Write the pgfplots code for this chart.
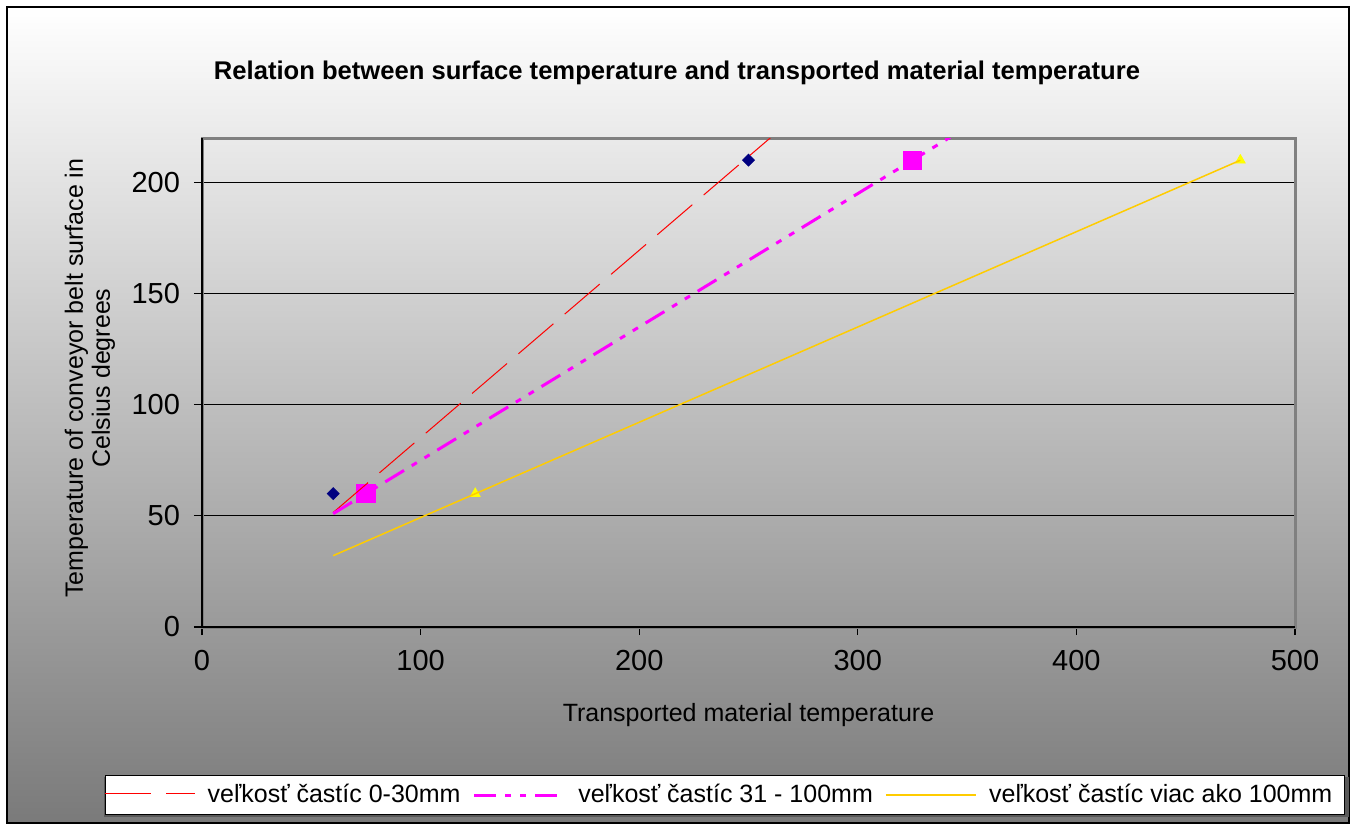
\documentclass[border=0pt]{standalone}
\usepackage{fontspec}
\setmainfont{Liberation Sans}
\usepackage{pgfplots}
\pgfplotsset{compat=1.18}

\definecolor{trendred}{RGB}{255,0,0}
\definecolor{magentax}{RGB}{255,0,255}
\definecolor{goldline}{RGB}{255,204,0}
\definecolor{yellowmark}{RGB}{255,255,0}
\definecolor{navymark}{RGB}{0,0,128}
\definecolor{bottomgray}{RGB}{122,122,122}
\definecolor{framegray}{RGB}{128,128,128}

\begin{document}
\begin{tikzpicture}
% chart area, 1px = 0.5pt
\path[use as bounding box] (0pt,0pt) rectangle (677pt,413.5pt);
\shade[top color=white, bottom color=bottomgray] (3.5pt,2pt) rectangle (674.5pt,410pt);
\draw[black, line width=0.75pt] (3.5pt,2pt) rectangle (674.5pt,410pt);
\node[font=\bfseries\fontsize{12.8}{14}\selectfont] at (338.5pt,377pt)
  {Relation between surface temperature and transported material temperature};
% legend shadow
\fill[black!65] (52pt,5pt) rectangle (674.5pt,25pt);

\begin{axis}[
  at={(101pt,100pt)}, anchor=south west, scale only axis,
  width=546.5pt, height=244.5pt,
  xmin=0, xmax=500, ymin=0, ymax=220,
  xtick={0,100,...,500}, ytick={0,50,...,200},
  axis line style={framegray, line width=1.5pt},
  tick style={black, line width=0.6pt},
  major tick length=4pt, tick align=outside, tick pos=left,
  ymajorgrids, grid style={black, line width=0.5pt},
  clip mode=individual,
  /pgf/number format/assume math mode=true,
  tick label style={font=\fontsize{14.5}{17}\selectfont},
  yticklabel style={xshift=-3.5pt},
  xticklabel style={yshift=-4pt},
  label style={font=\fontsize{12.5}{13.5}\selectfont},
  xlabel={Transported material temperature},
  xlabel style={at={(axis description cs:0.5,-0.18)}, anchor=center},
  ylabel={Temperature of conveyor belt surface in\\Celsius degrees},
  ylabel style={at={(axis description cs:-0.1025,0.509)}, anchor=center, align=center},
  legend columns=3,
  legend image code/.code={\draw[#1] (0pt,0pt) -- (45pt,0pt);},
  legend style={at={(axis description cs:0.4785,-0.3436)}, anchor=center,
    draw=black, line width=0.5pt, fill=white, inner xsep=0pt, inner ysep=0pt,
    nodes={inner xsep=6.2pt, inner ysep=4.5pt},
    font=\fontsize{12.5}{14}\selectfont},
]
% measured points
\addplot[only marks, forget plot, mark=square*, mark size=2.1pt,
  mark options={rotate=45, fill=navymark, draw=navymark}] coordinates {(60,60) (250,210)};
\addplot[only marks, forget plot, mark=square*, mark size=4.6pt,
  mark options={fill=magentax, draw=magentax}] coordinates {(75,60) (325,210)};
\addplot[only marks, forget plot, mark=triangle*, mark size=2.8pt,
  mark options={fill=yellowmark, draw=yellowmark}] coordinates {(125,60) (475,210)};

% trend lines
% red sample built from coloured rules, its stroked version came out black
\addplot[trendred, line width=0.5pt, dash pattern=on 23pt off 7.5pt,
  legend image code/.code={\node[inner sep=0pt, anchor=west] at (0pt,0pt)
    {\textcolor{trendred}{\rule[-0.25pt]{23pt}{0.5pt}\hspace{7.5pt}\rule[-0.25pt]{14.5pt}{0.5pt}}};}]
  coordinates {(60,51.5) (270,228.5)};
\addlegendentry{veľkosť častíc 0-30mm}
\addplot[magentax, line width=1.5pt,
  dash pattern=on 11pt off 4.5pt on 3pt off 4.5pt on 3pt off 4.5pt]
  coordinates {(60,51) (350,225)};
\addlegendentry{veľkosť častíc 31 - 100mm}
\addplot[goldline, line width=0.75pt] coordinates {(60,32.1) (475,210)};
\addlegendentry{veľkosť častíc viac ako 100mm}

\draw[black, line width=0.6pt] (axis cs:0,220) -- (axis cs:0,0) -- (axis cs:500,0);
\end{axis}
\end{tikzpicture}
\end{document}
